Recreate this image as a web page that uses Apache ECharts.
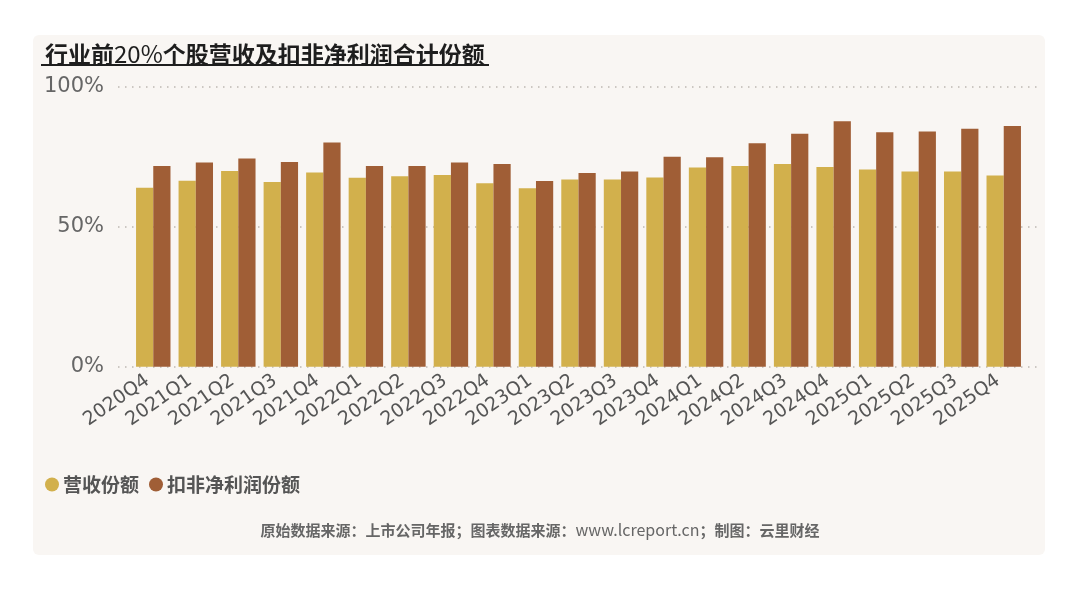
<!DOCTYPE html>
<html>
<head>
<meta charset="utf-8">
<script src="https://cdn.jsdelivr.net/npm/echarts@6/dist/echarts.min.js"></script>
<style>
  html, body { margin: 0; padding: 0; background: #fff; }
  #main { width: 1080px; height: 589px; }
</style>
</head>
<body>
<div id="main"></div>
<script>
// 季度
var quarters = ['2020Q4', '2021Q1', '2021Q2', '2021Q3', '2021Q4', '2022Q1', '2022Q2', '2022Q3', '2022Q4',
    '2023Q1', '2023Q2', '2023Q3', '2023Q4', '2024Q1', '2024Q2', '2024Q3', '2024Q4',
    '2025Q1', '2025Q2', '2025Q3', '2025Q4'];

// 营收份额 (%)
var revenueShare = [63.9, 66.4, 69.9, 66.0, 69.4, 67.5, 68.0, 68.5, 65.5,
    63.7, 66.9, 66.9, 67.6, 71.1, 71.7, 72.4, 71.3,
    70.4, 69.7, 69.7, 68.3];

// 扣非净利润份额 (%)
var profitShare = [71.7, 72.9, 74.4, 73.1, 80.1, 71.7, 71.7, 72.9, 72.4,
    66.3, 69.2, 69.7, 75.0, 74.8, 79.8, 83.2, 87.7,
    83.7, 84.0, 85.0, 86.0];

var yTicks = ['0%', '50%', '100%'];

var myChart = echarts.init(document.getElementById('main'));

var option = {
    backgroundColor: '#ffffff',
    animation: false,
    title: {
        text: '{a|行业前}{n|20%}{a|个股营收及扣非净利润合计份额}',
        left: 40,
        top: 37,
        textStyle: {
            rich: {
                a: { fontFamily: 'Noto Sans CJK SC', fontSize: 23, fontWeight: 'bold', color: '#1e1e1e' },
                n: { fontFamily: 'Noto Sans CJK SC', fontSize: 24, fontWeight: 'normal', color: '#1e1e1e' }
            }
        }
    },
    graphic: [
        // 背景面板
        {
            type: 'rect',
            left: 33, top: 35, z: -10,
            shape: { width: 1012, height: 520, r: 6 },
            style: { fill: '#f9f6f3' }
        },
        // 标题下划线
        {
            type: 'rect',
            left: 41, top: 64, z: 10,
            shape: { width: 448, height: 2 },
            style: { fill: '#1e1e1e' }
        },
        // 底部来源
        {
            type: 'text',
            left: 'center', top: 522,
            style: {
                text: '{b|原始数据来源：上市公司年报；图表数据来源：}{n|www.lcreport.cn}{b|；制图：云里财经}',
                rich: {
                    b: { fontFamily: 'Noto Sans CJK SC', fontSize: 15, fontWeight: 'bold', fill: '#666' },
                    n: { fontFamily: 'Noto Sans CJK SC', fontSize: 16, fontWeight: 'normal', fill: '#666' }
                }
            }
        }
    ],
    legend: {
        left: 40,
        top: 470,
        itemWidth: 14,
        itemHeight: 14,
        itemGap: 10,
        icon: 'circle',
        textStyle: {
            fontFamily: 'Noto Sans CJK SC',
            fontSize: 19,
            fontWeight: 'bold',
            color: '#555',
            padding: [0, 0, 0, -1]
        },
        data: ['营收份额', '扣非净利润份额']
    },
    grid: [
        { left: 132, right: 55, top: 86.7, bottom: 222.3 },
        { left: 118, right: 42, top: 86.7, bottom: 222.3 }
    ],
    xAxis: [
        {
            type: 'category',
            gridIndex: 0,
            data: quarters,
            axisLine: { show: false },
            axisTick: { show: false },
            axisLabel: {
                interval: 0,
                hideOverlap: false,
                rotate: 35,
                margin: 8,
                padding: [0, 7, 0, 0],
                fontFamily: 'DejaVu Sans',
                fontSize: 19,
                color: '#555'
            }
        },
        { type: 'value', gridIndex: 1, min: 0, max: 1, show: false }
    ],
    yAxis: [
        { type: 'value', gridIndex: 0, min: 0, max: 100, interval: 50, show: false },
        {
            type: 'value',
            gridIndex: 1,
            min: 0,
            max: 100,
            interval: 50,
            axisLine: { show: false },
            axisTick: { show: false },
            axisLabel: {
                margin: 14,
                fontFamily: 'DejaVu Sans',
                fontSize: 21,
                color: '#666',
                formatter: function (v) { return yTicks[v / 50]; }
            },
            splitLine: {
                lineStyle: { color: '#bdb8b2', width: 1.5, type: [1.5, 5.5] }
            }
        }
    ],
    series: [
        {
            name: '营收份额',
            type: 'bar',
            xAxisIndex: 0, yAxisIndex: 0,
            barGap: '0%',
            barCategoryGap: '19%',
            itemStyle: { color: '#d2b04c' },
            data: revenueShare
        },
        {
            name: '扣非净利润份额',
            type: 'bar',
            xAxisIndex: 0, yAxisIndex: 0,
            itemStyle: { color: '#a05e36' },
            data: profitShare
        }
    ]
};

myChart.setOption(option);
</script>
</body>
</html>
